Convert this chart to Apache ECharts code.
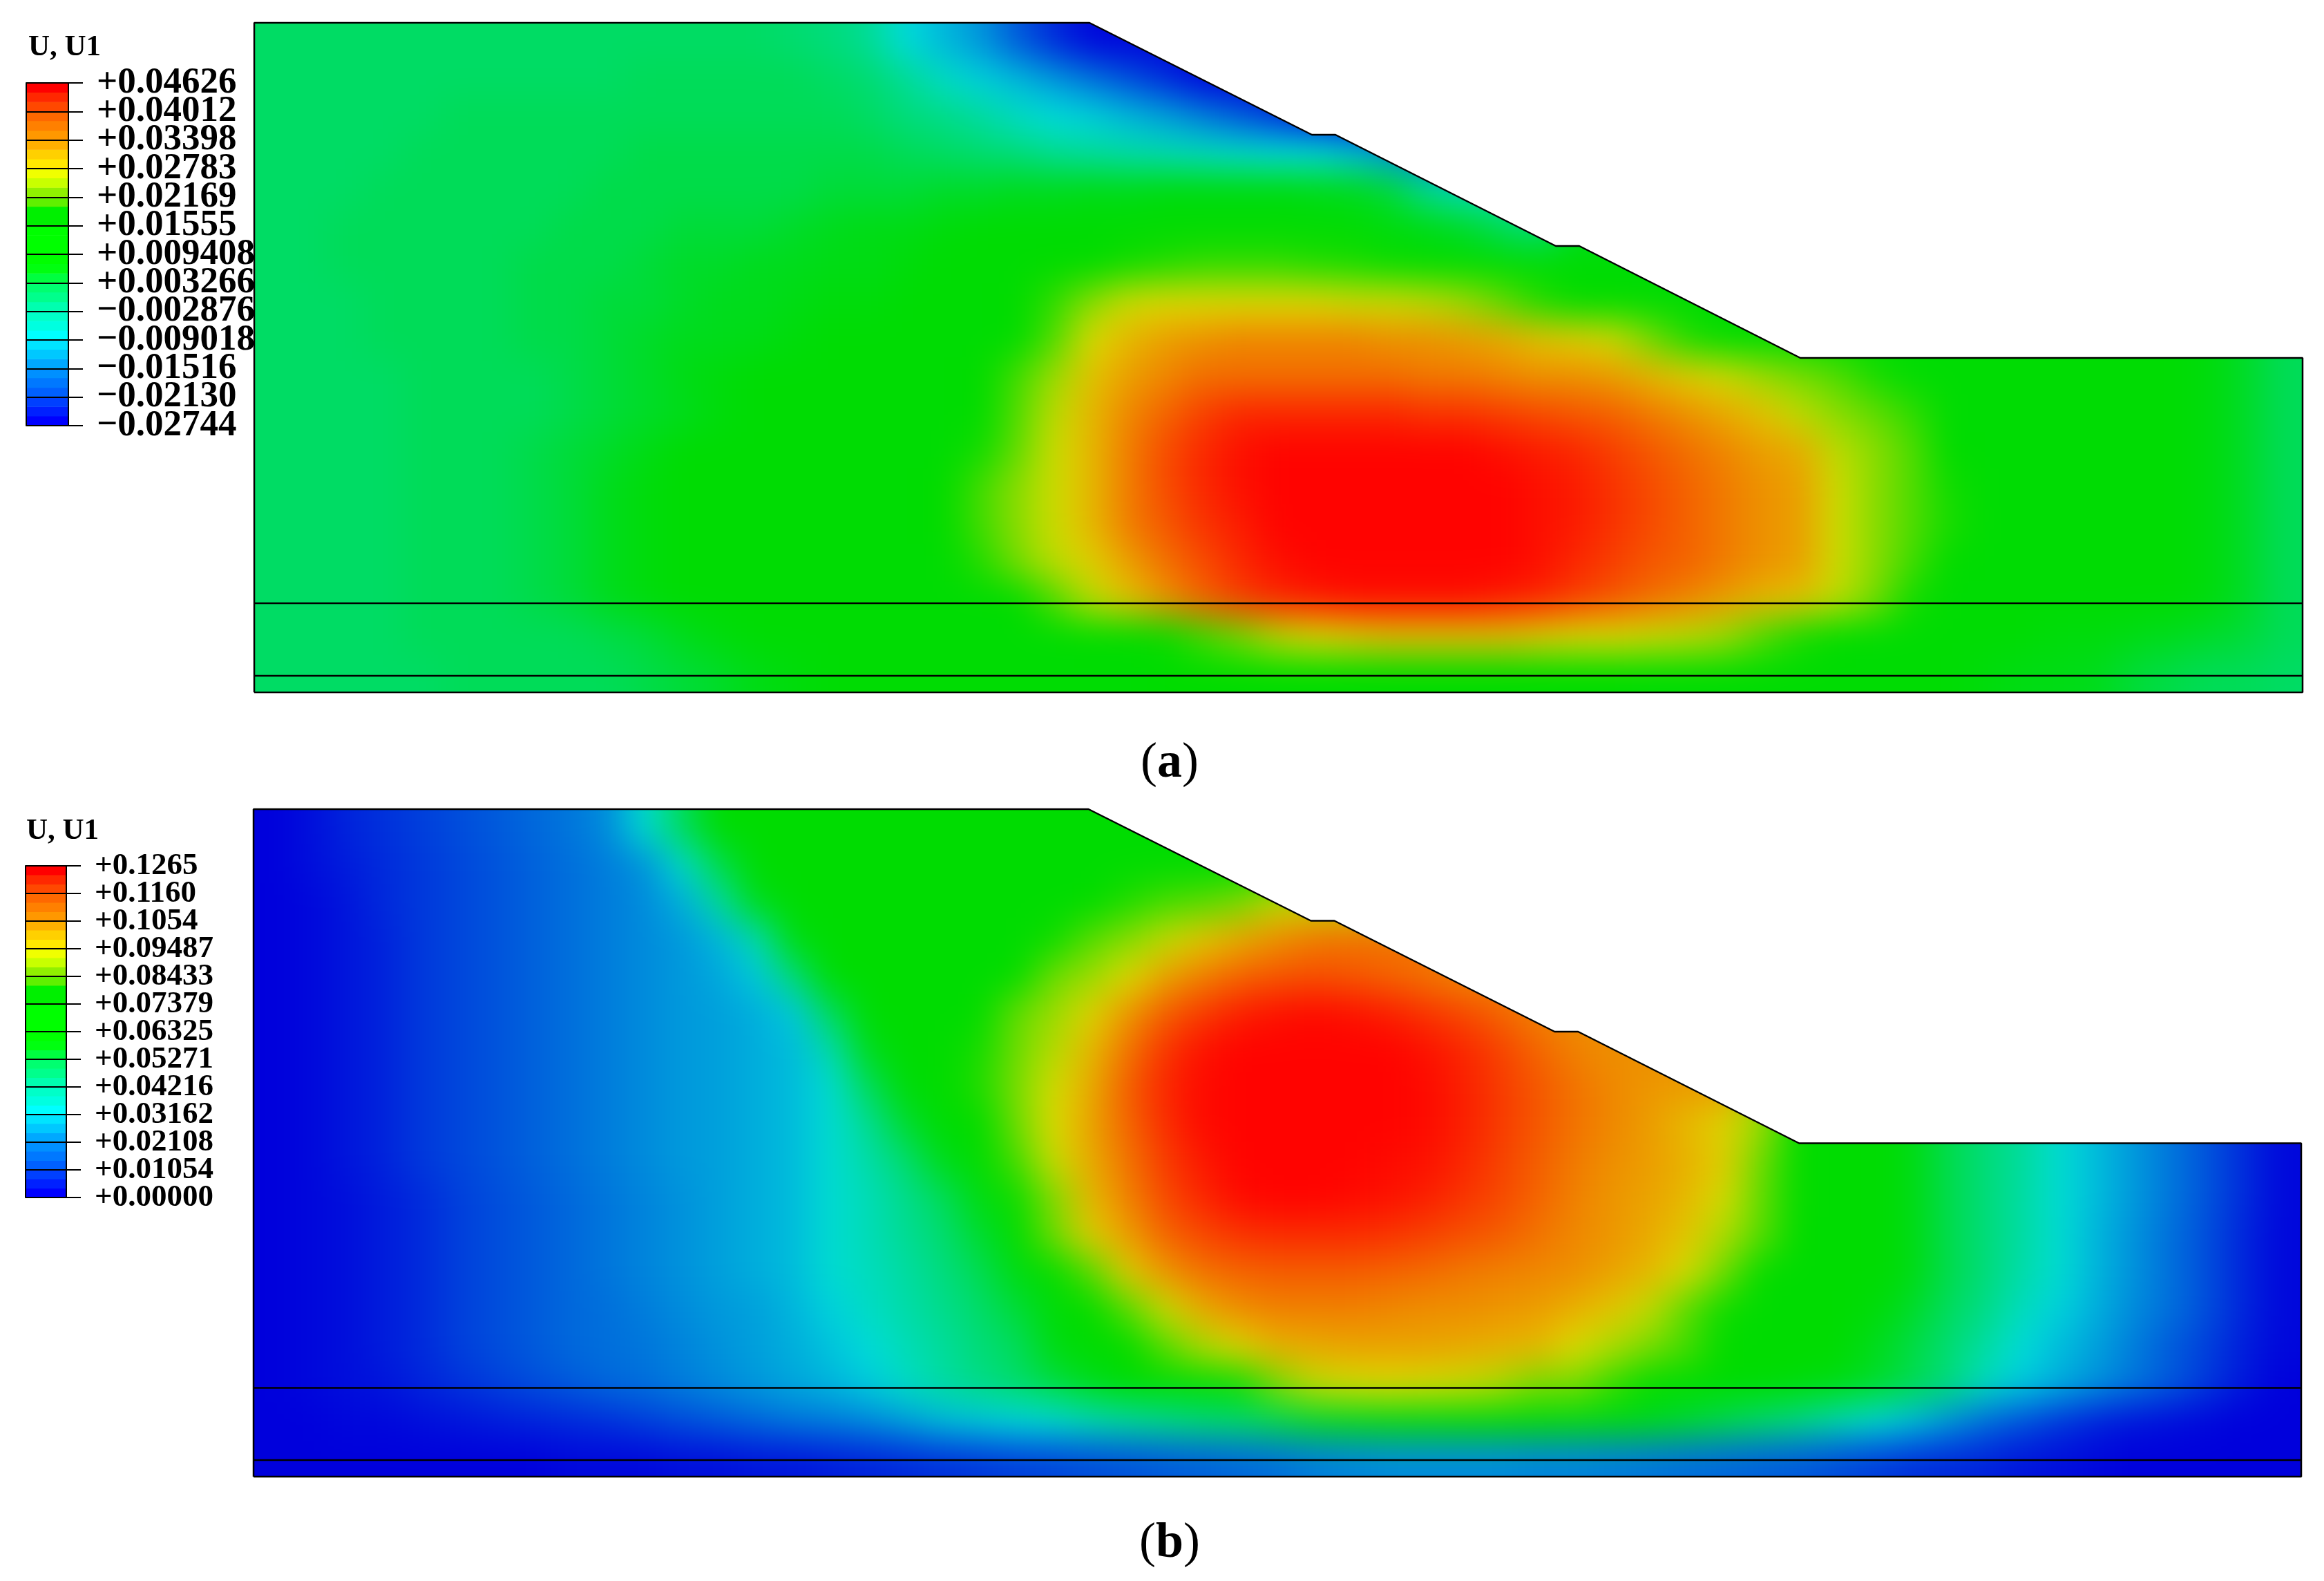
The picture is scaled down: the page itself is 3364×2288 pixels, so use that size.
<!DOCTYPE html>
<html>
<head>
<meta charset="utf-8">
<style>
html, body { margin: 0; background: #fff; overflow: hidden; width: 3364px; height: 2288px; }
#chart { position: absolute; left: -120px; top: -120px; width: 3604px; height: 2528px; }
</style>
<script src="https://cdn.jsdelivr.net/npm/echarts@6/dist/echarts.min.js"></script>
</head>
<body>
<div id="chart"></div>
<script>
// U1, in thousandths. 18 rows top to bottom, 55 columns left to right.
// Cells above the slope are hidden by the white mask, they only hold the nearest colour.
var panelARows = [
[1,1,1,1,1, 1,1,1,1,1, 1,1,1,1,0, -1,-3,-9,-12,-15, -20,-24,-27,-27,-27, -27,-27,-27,-27,-27, -27,-27,-27,-27,-27, -27,-27,-27,-27,-27, -27,-27,-27,-27,-27, -27,-27,-27,-27,-27, -27,-27,-27,-27,-27],
[1,1,1,1,1, 1,1,1,1,1, 2,2,2,2,2, 1,0,-3,-7,-10, -12,-15,-18,-21,-24, -27,-27,-27,-27,-27, -27,-27,-27,-27,-27, -27,-27,-27,-27,-27, -27,-27,-27,-27,-27, -27,-27,-27,-27,-27, -27,-27,-27,-27,-27],
[1,1,1,1,1, 2,2,2,2,2, 2,2,2,2,2, 2,1,-1,-2,-4, -7,-9,-10,-12,-14, -17,-20,-23,-26,-27, -27,-27,-27,-27,-27, -27,-27,-27,-27,-27, -27,-27,-27,-27,-27, -27,-27,-27,-27,-27, -27,-27,-27,-27,-27],
[1,1,1,1,2, 2,2,2,2,2, 3,3,3,3,3, 3,3,2,1,0, -1,-3,-4,-5,-6, -7,-8,-9,-9,-11, -14,-17,-17,-17,-17, -17,-17,-17,-17,-17, -17,-17,-17,-17,-17, -17,-17,-17,-17,-17, -17,-17,-17,-17,-17],
[1,1,1,2,2, 2,2,2,2,3, 3,3,3,3,3, 4,4,4,5,5, 6,6,7,7,8, 8,8,8,7,6, 4,-3,-6,-6,-6, -6,-6,-6,-6,-6, -6,-6,-6,-6,-6, -6,-6,-6,-6,-6, -6,-6,-6,-6,-6],
[1,1,2,2,2, 2,2,2,3,3, 3,4,4,4,5, 6,7,7,8,9, 9,9,9,9,9, 9,9,9,9,9, 8,7,5,2,-1, 6,6,6,6,6, 6,6,6,6,6, 6,6,6,6,6, 6,6,6,6,6],
[1,1,2,2,2, 2,2,3,3,3, 4,5,5,6,6, 7,7,8,9,9, 9,10,12,15,17, 18,18,18,17,16, 14,12,11,10,9, 9,9,9,9,9, 9,9,9,9,9, 9,9,9,9,9, 9,9,9,9,9],
[1,1,1,2,2, 2,2,3,3,4, 4,5,6,6,7, 8,8,9,9,9, 10,18,23,27,28, 28,28,28,28,27, 27,26,24,21,17, 12,10,9,9,9, 9,9,9,9,9, 9,9,9,9,9, 9,9,9,9,9],
[1,1,1,2,2, 2,2,3,3,4, 5,6,6,7,8, 9,9,9,9,9, 12,20,28,31,33, 34,35,35,35,35, 34,34,33,32,30, 29,27,22,17,13, 9,9,9,9,9, 9,9,9,9,9, 9,9,8,5,2],
[1,1,1,1,2, 2,2,2,3,4, 5,7,8,9,9, 9,9,9,9,10, 19,24,30,33,35, 37,37,37,37,37, 37,36,36,35,34, 34,33,31,29,27, 24,22,20,16,9, 9,9,9,9,9, 9,9,8,5,2],
[1,1,1,1,2, 2,2,2,3,4, 5,6,8,9,9, 9,9,9,9,13, 20,26,31,35,38, 41,43,43,43,43, 43,42,42,41,40, 39,38,36,34,32, 30,26,23,21,18, 9,9,9,9,9, 9,9,8,5,2],
[1,1,1,1,2, 2,2,3,4,5, 7,9,9,9,9, 9,9,9,9,15, 21,27,31,36,40, 43,45,46,46,46, 46,46,46,45,44, 43,41,39,37,35, 33,32,26,23,20, 13,9,9,9,9, 9,9,8,5,2],
[1,1,1,1,2, 2,2,3,4,6, 8,9,9,9,9, 9,9,9,10,19, 23,27,31,36,40, 43,45,46,46,46, 46,46,46,46,45, 44,42,40,38,36, 34,33,27,23,20, 15,9,9,9,9, 9,9,8,5,2],
[1,1,1,1,2, 2,2,3,4,6, 8,9,9,9,9, 9,9,9,10,19, 23,27,31,36,39, 42,44,46,46,46, 46,46,46,46,45, 44,42,40,38,36, 34,33,27,23,20, 16,9,9,9,9, 9,9,8,5,2],
[1,1,1,1,2, 2,2,3,4,6, 8,9,9,9,9, 9,9,9,9,17, 22,26,29,33,37, 40,43,45,46,46, 46,46,46,46,45, 43,41,39,38,36, 34,33,27,23,19, 13,9,9,9,9, 9,9,8,5,2],
[1,1,1,1,2, 2,2,3,4,6, 8,9,9,9,9, 9,9,9,9,9, 13,20,26,30,34, 38,41,43,44,45, 45,45,45,44,43, 41,39,37,35,33, 31,30,26,22,15, 9,9,9,9,9, 9,9,8,5,2],
[1,1,1,1,2, 2,2,2,2,3, 4,6,8,9,9, 9,9,9,9,9, 9,9,10,11,14, 19,22,26,28,29, 30,30,30,30,29, 28,28,27,26,24, 20,16,10,9,9, 9,9,9,8,8, 7,6,5,4,2],
[1,1,1,1,1, 2,2,2,2,2, 3,4,5,7,8, 9,9,9,9,9, 9,9,9,9,10, 10,10,11,11,12, 12,12,12,11,11, 10,10,9,9,9, 9,9,9,9,9, 9,8,7,7,6, 4,3,2,2,1]
];
var panelBRows = [
[0,2,5,7,9, 11,13,15,17,20, 33,50,63,63,63, 63,63,63,63,63, 63,63,63,63,63, 63,63,63,63,63, 63,63,63,63,63, 63,63,63,63,63, 63,63,63,63,63, 63,63,63,63,63, 63,63,63,63,63],
[0,2,4,6,8, 10,12,14,16,18, 21,34,52,63,63, 63,63,63,63,63, 63,63,63,63,63, 63,63,63,63,63, 63,63,63,63,63, 63,63,63,63,63, 63,63,63,63,63, 63,63,63,63,63, 63,63,63,63,63],
[0,1,3,6,8, 10,12,14,16,18, 20,25,40,58,63, 63,63,63,63,63, 63,63,66,76,80, 82,85,92,92,92, 92,92,92,92,92, 92,92,92,92,92, 92,92,92,92,92, 92,92,92,92,92, 92,92,92,92,92],
[0,1,3,5,8, 10,12,14,16,18, 20,22,26,38,60, 63,63,63,63,63, 63,72,82,86,92, 98,102,106,109,110, 110,110,110,110,110, 110,110,110,110,110, 110,110,110,110,110, 110,110,110,110,110, 110,110,110,110,110],
[0,1,3,5,8, 10,12,14,16,18, 20,22,24,29,46, 63,63,63,63,63, 70,84,88,95,103, 108,112,114,115,114, 112,110,107,107,107, 107,107,107,107,107, 107,107,107,107,107, 107,107,107,107,107, 107,107,107,107,107],
[0,1,3,5,8, 10,12,14,16,18, 20,22,23,25,29, 50,63,63,63,68, 83,88,96,105,113, 118,122,124,125,124, 122,119,116,112,108, 106,106,106,106,106, 106,106,106,106,106, 106,106,106,106,106, 106,106,106,106,106],
[0,1,3,5,8, 10,12,14,16,18, 20,22,23,25,27, 38,58,63,63,74, 84,91,100,110,119, 124,126,126,126,126, 126,124,121,117,112, 108,106,106,106,106, 106,106,106,106,106, 106,106,106,106,106, 106,106,106,106,106],
[0,1,3,5,8, 10,12,14,16,18, 20,22,23,25,27, 33,50,62,63,76, 85,94,102,113,121, 125,126,126,126,126, 126,125,122,118,114, 110,107,105,104,104, 88,66,63,63,60, 52,46,41,33,27, 22,17,12,6,1],
[0,1,3,5,8, 10,12,14,16,18, 20,22,23,25,27, 33,42,55,63,68, 84,95,103,112,120, 125,126,126,126,126, 126,125,122,118,114, 110,107,104,100,96, 88,70,63,63,60, 52,46,41,33,27, 22,17,12,6,1],
[0,1,3,5,8, 10,12,14,16,18, 20,22,23,25,27, 33,39,47,58,63, 80,93,102,110,118, 123,126,126,126,126, 125,124,121,117,113, 109,106,104,101,97, 84,70,63,63,60, 52,46,41,33,27, 22,17,12,6,1],
[0,1,2,4,6, 9,11,13,15,17, 19,21,23,25,27, 33,37,43,50,60, 72,86,100,108,116, 121,125,126,126,125, 124,122,119,116,112, 108,105,103,100,94, 83,70,63,63,60, 52,46,40,33,27, 22,17,12,6,1],
[0,1,2,4,6, 9,11,13,15,17, 19,21,23,25,27, 33,37,42,47,55, 66,84,97,104,112, 116,119,120,120,120, 119,117,115,113,110, 107,105,102,98,90, 82,65,63,63,60, 52,46,40,33,26, 21,16,11,5,1],
[0,1,2,4,6, 9,11,13,15,17, 19,21,23,25,27, 33,36,40,45,51, 60,70,82,97,105, 110,112,113,113,113, 112,111,109,108,107, 106,103,100,94,84, 70,63,63,63,60, 52,46,39,33,26, 21,16,11,5,1],
[0,1,2,4,6, 9,11,13,15,16, 18,20,22,23,26, 30,35,39,43,48, 54,62,68,82,93, 102,106,108,108,108, 107,106,106,105,104, 101,98,92,82,72, 63,63,63,62,56, 50,44,36,30,25, 20,16,11,5,1],
[0,1,2,4,6, 9,11,13,15,16, 17,19,21,23,25, 28,32,37,41,46, 50,60,63,68,82, 90,96,101,102,103, 103,103,102,101,100, 95,90,85,80,68, 63,63,63,58,53, 47,40,32,27,23, 18,13,9,4,1],
[0,1,2,3,5, 7,9,11,13,15, 16,18,20,22,24, 26,29,35,40,44, 48,53,58,63,63, 65,72,85,92,94, 95,94,93,90,85, 85,78,65,63,63, 63,62,60,56,52, 46,36,29,25,21, 17,13,8,3,0],
[0,0,1,1,2, 3,4,5,6,7, 9,11,13,15,17, 18,20,23,27,29, 31,33,37,40,43, 46,48,52,56,58, 60,61,62,62,62, 61,60,58,55,52, 48,44,38,33,28, 22,16,12,8,5, 3,2,1,0,0],
[0,0,0,0,0, 0,0,0,1,1, 1,2,2,3,3, 4,5,6,7,8, 9,10,11,12,13, 14,15,16,18,19, 20,20,20,20,19, 19,18,17,16,15, 14,13,11,9,7, 6,5,3,2,1, 0,0,0,0,0]
];

var legendLabelsA = ['+0.04626', '+0.04012', '+0.03398', '+0.02783', '+0.02169', '+0.01555', '+0.009408', '+0.003266', '\u22120.002876', '\u22120.009018', '\u22120.01516', '\u22120.02130', '\u22120.02744'];
var legendLabelsB = ['+0.1265', '+0.1160', '+0.1054', '+0.09487', '+0.08433', '+0.07379', '+0.06325', '+0.05271', '+0.04216', '+0.03162', '+0.02108', '+0.01054', '+0.00000'];
var legendColors = [
  '#0000ff', '#0020ff', '#0040ff', '#0060ff', '#0078ff', '#0090ff', '#00a8ff', '#00c8ff', '#00e4ff',
  '#00ffff', '#00ffe0', '#00ffc8', '#00ffb0', '#00ff8c', '#00ff70', '#00ff40', '#00ff10', '#00ff00',
  '#00ff00', '#00ff00', '#00ff00', '#00f000', '#00f000', '#60f000', '#90f000', '#c8ff00', '#f0ff00',
  '#ffe800', '#ffd000', '#ffb000', '#ff9800', '#ff8000', '#ff6800', '#ff4800', '#ff2800', '#ff0000'
];
var plotColors = ['#0000dc', '#002cdc', '#0058dc', '#0084dc', '#00b0dc', '#00dcdc', '#00dcb0', '#00dc84', '#00dc58', '#00dc1e', '#00dc00', '#00dc00', '#1edc00', '#58dc00', '#a0dc00', '#dcdc00', '#e8b000', '#f08400', '#f55800', '#fa2c00', '#ff0000'];

// slope profile, measured up from the bottom left corner
var slopeX = [0, 0, 1209, 1531, 1565, 1884, 1918, 2238, 2965, 2965, 0];
var slopeY = [0, 969, 969, 807, 807, 646, 646, 484, 484, 0, 0];
var layerY = [129, 24];

var OFF = 120; // the div starts this far outside the window so the blur has no edge inside it
var panels = [
  { left: 368, top: 33, width: 2965, height: 969, rows: panelARows, min: -27.44, max: 46.26, up: 84, down: 92 },
  { left: 367, top: 1171, width: 2964, height: 966, rows: panelBRows, min: 0, max: 126.5, up: 85, down: 180 }
];
var legends = [
  { left: 38, top: 120, width: 61, height: 496, labels: legendLabelsA, size: 53, margin: 41 },
  { left: 37, top: 1253, width: 59, height: 480, labels: legendLabelsB, size: 45, margin: 41 }
];
var PAD = 2;
var font = '"Liberation Serif", "Times New Roman", serif';

function cells(rows) {
  var out = [];
  var nr = rows.length, nc = rows[0].length;
  for (var j = -PAD; j < nr + PAD; j++) {
    for (var i = -PAD; i < nc + PAD; i++) {
      var r = rows[Math.max(0, Math.min(nr - 1, j))];
      out.push([i + PAD, j + PAD, r[Math.max(0, Math.min(nc - 1, i))]]);
    }
  }
  return out;
}
function range(n) {
  var a = [];
  for (var i = 0; i < n; i++) a.push(i);
  return a;
}

var grid = [], xAxis = [], yAxis = [], series = [], visualMap = [];

panels.forEach(function (p, k) {
  var nc = p.rows[0].length, nr = p.rows.length;
  var cw = p.width / nc, ch = p.height / nr;
  grid[k] = { left: p.left - PAD * cw + OFF, top: p.top - PAD * ch + OFF, width: p.width + 2 * PAD * cw, height: p.height + 2 * PAD * ch };
  grid[k + 2] = { left: p.left + OFF, top: p.top + OFF, width: p.width, height: p.height };
  xAxis[k] = { gridIndex: k, type: 'category', show: false, data: range(nc + 2 * PAD) };
  yAxis[k] = { gridIndex: k, type: 'category', show: false, inverse: true, data: range(nr + 2 * PAD) };
  xAxis[k + 2] = { gridIndex: k + 2, type: 'value', show: false, min: 0, max: 2965 };
  yAxis[k + 2] = { gridIndex: k + 2, type: 'value', show: false, min: 0, max: 969 };
  series.push({
    type: 'heatmap', xAxisIndex: k, yAxisIndex: k, data: cells(p.rows),
    silent: true, zlevel: 0, progressive: 0, animation: false
  });
  visualMap.push({ show: false, seriesIndex: k, min: p.min, max: p.max, dimension: 2, inRange: { color: plotColors } });
});

legends.forEach(function (l, k) {
  grid[k + 4] = { left: l.left + OFF, top: l.top + OFF, width: l.width, height: l.height };
  xAxis[k + 4] = { gridIndex: k + 4, type: 'category', show: false, data: [0] };
  yAxis[k + 4] = {
    gridIndex: k + 4, type: 'category', data: range(legendColors.length), zlevel: 1, z: 10,
    axisLine: { show: true, lineStyle: { color: '#000', width: 2 } }, axisTick: { show: false }, axisLabel: { show: false }
  };
  yAxis[k + 6] = {
    gridIndex: k + 4, type: 'value', position: 'right', min: 0, max: 12, interval: 1, zlevel: 1, z: 10,
    axisLine: { show: true, onZero: false, lineStyle: { color: '#000', width: 2 } },
    axisTick: { show: true, length: 21, lineStyle: { color: '#000', width: 2 } },
    splitLine: { show: true, lineStyle: { color: '#000', width: 2 } },
    axisLabel: { show: false }
  };
  // labels sit on their own axis, one band longer at each end: echarts drops a label next to a
  // forced end label when they touch, and these labels are packed tighter than their font size
  var band = l.height / 12;
  grid[k + 6] = { left: l.left + OFF, top: l.top - band + OFF, width: l.width, height: l.height + 2 * band };
  xAxis[k + 6] = { gridIndex: k + 6, type: 'category', show: false, data: [0] };
  yAxis[k + 8] = {
    gridIndex: k + 6, type: 'value', position: 'right', min: -1, max: 13, interval: 1, zlevel: 1, z: 10,
    axisLine: { show: false }, axisTick: { show: false }, splitLine: { show: false },
    axisLabel: {
      margin: l.margin, color: '#000', fontFamily: font, fontWeight: 'bold', fontSize: l.size,
      lineHeight: Math.round(l.size * 0.7),
      formatter: function (v) { return l.labels[12 - v] || ''; }
    }
  };
  series.push({
    type: 'heatmap', xAxisIndex: k + 4, yAxisIndex: k + 4, zlevel: 1, z: 5, silent: true, progressive: 0,
    data: legendColors.map(function (c, i) { return [0, i, i]; })
  });
  visualMap.push({ show: false, seriesIndex: k + 2, min: 0, max: legendColors.length - 1, dimension: 2, inRange: { color: legendColors } });
});

panels.forEach(function (p, k) {
  var ax = k + 2;
  // white outside the soil: outer box, then the profile the other way round
  series.push({
    type: 'custom', xAxisIndex: ax, yAxisIndex: ax, zlevel: 1, z: 1, silent: true, clip: false, data: [[0, 0]],
    renderItem: function (params, api) {
      var pts = [[-600, 969 + p.up], [3500, 969 + p.up], [3500, -p.down], [-600, -p.down], [-600, 969 + p.up]].map(api.coord);
      for (var i = slopeX.length - 1; i >= 0; i--) pts.push(api.coord([slopeX[i], slopeY[i]]));
      pts.push(api.coord([-600, 969 + p.up]));
      return { type: 'polygon', shape: { points: pts }, style: { fill: '#fff' } };
    }
  });
  series.push({
    type: 'line', xAxisIndex: ax, yAxisIndex: ax, zlevel: 1, z: 6, symbol: 'none', silent: true, clip: false,
    data: slopeX.map(function (x, i) { return [x, slopeY[i]]; }),
    lineStyle: { color: '#000', width: 2.5 }
  });
  layerY.forEach(function (y) {
    series.push({
      type: 'line', xAxisIndex: ax, yAxisIndex: ax, zlevel: 1, z: 6, symbol: 'none', silent: true, clip: false,
      data: [[0, y], [2965, y]],
      lineStyle: { color: '#000', width: 2.5 }
    });
  });
});

function caption(letter, x, y) {
  return {
    text: '{p|(}{l|' + letter + '}{p|)}', left: x + OFF, top: y + OFF, textAlign: 'center', textVerticalAlign: 'middle', zlevel: 1, z: 10,
    textStyle: {
      fontWeight: 'normal',
      rich: {
        p: { fontFamily: font, fontSize: 72, fontWeight: 'normal', color: '#000' },
        l: { fontFamily: font, fontSize: 72, fontWeight: 'bold', color: '#000' }
      }
    }
  };
}
function head(x, y) {
  return {
    text: 'U, U1', left: x + OFF, top: y + OFF, textVerticalAlign: 'middle', zlevel: 1, z: 10,
    textStyle: { fontFamily: font, fontSize: 43, fontWeight: 'bold', color: '#000' }
  };
}

var chart = echarts.init(document.getElementById('chart'));
chart.setOption({
  animation: false,
  backgroundColor: 'transparent',
  title: [head(36, 64), head(33, 1198), caption('a', 1688, 1100), caption('b', 1688, 2229)],
  grid: grid,
  xAxis: xAxis,
  yAxis: yAxis,
  visualMap: visualMap,
  series: series
});
// only the contour layer is soft; cells stay as read, the blur just hides their edges
document.querySelector('#chart canvas[data-zr-dom-id="zr_0"]').style.filter = 'blur(26px)';
</script>
</body>
</html>
